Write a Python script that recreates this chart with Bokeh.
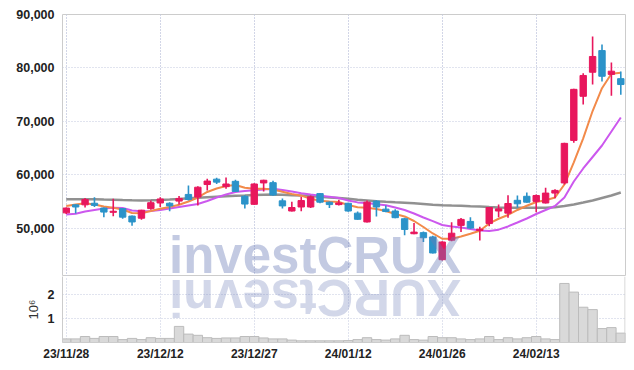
import numpy as np
from bokeh.plotting import figure
from bokeh.layouts import column
from bokeh.models import ColumnDataSource, FixedTicker, Span, Range1d, Grid, NumeralTickFormatter
from bokeh.core.properties import value
from bokeh.embed import file_html
from bokeh.resources import INLINE

dates = ["23/11/28", "23/11/29", "23/11/30", "23/12/01", "23/12/04", "23/12/05", "23/12/06", "23/12/07",
         "23/12/08", "23/12/11", "23/12/12", "23/12/13", "23/12/14", "23/12/15", "23/12/18", "23/12/19",
         "23/12/20", "23/12/21", "23/12/22", "23/12/26", "23/12/27", "23/12/28", "24/01/02", "24/01/03",
         "24/01/04", "24/01/05", "24/01/08", "24/01/09", "24/01/10", "24/01/11", "24/01/12", "24/01/15",
         "24/01/16", "24/01/17", "24/01/18", "24/01/19", "24/01/22", "24/01/23", "24/01/24", "24/01/25",
         "24/01/26", "24/01/29", "24/01/30", "24/01/31", "24/02/01", "24/02/02", "24/02/05", "24/02/06",
         "24/02/07", "24/02/08", "24/02/13", "24/02/14", "24/02/15", "24/02/16", "24/02/19", "24/02/20",
         "24/02/21", "24/02/22", "24/02/23", "24/02/26"]

opens = [52900, 54400, 54400, 54700, 53800, 53000, 53700, 52300, 51900, 53700,
         54750, 54700, 55100, 56350, 55850, 58200, 59200, 57800, 58800, 56000,
         54500, 58500, 58550, 55150, 53250, 54000, 54000, 56500, 54900, 54450,
         54700, 52850, 51200, 55100, 53600, 53250, 51800, 49000, 49200, 48400,
         44150, 47800, 50560, 51300, 49600, 50900, 53250, 52850, 55250, 56000,
         55050, 54750, 56600, 58500, 66450, 74700, 79200, 83250, 78800, 78000]
highs = [53900, 54500, 55700, 55800, 53900, 55550, 53800, 52400, 53500, 55200,
         55800, 54900, 56050, 58000, 57900, 59300, 59450, 59500, 59100, 56200,
         58450, 59100, 58900, 55600, 55000, 55850, 56150, 56600, 55050, 55350,
         54800, 53150, 55200, 55250, 54300, 53600, 52000, 51000, 49400, 48600,
         47600, 51150, 51950, 52100, 50300, 54000, 54450, 56200, 56150, 56700,
         56350, 57600, 57300, 66000, 76100, 79000, 85900, 84400, 81000, 79350]
lows = [52700, 52800, 53900, 54000, 52100, 52250, 51800, 50500, 51600, 53500,
        54000, 53200, 54450, 55200, 54300, 57100, 58300, 57400, 56800, 53700,
        54400, 56900, 56100, 53700, 53150, 53200, 53800, 54700, 53800, 54300,
        53100, 51600, 51100, 52200, 53000, 51900, 48700, 48900, 47450, 45300,
        44000, 47600, 49300, 49950, 47750, 50400, 52100, 52000, 53900, 54800,
        53000, 54650, 55650, 58200, 66000, 73150, 76900, 77450, 74800, 75000]
closes = [53800, 54000, 55400, 54300, 53050, 53200, 52100, 51200, 53400, 54800,
          55500, 54200, 55600, 55400, 57700, 58850, 58650, 58300, 56900, 54550,
          58300, 59000, 56250, 54200, 53900, 55200, 55900, 54900, 54450, 54750,
          53250, 51700, 54900, 54000, 53150, 52000, 49800, 49300, 48250, 45400,
          47450, 49100, 51680, 50050, 49850, 53900, 53650, 54650, 54600, 54900,
          56150, 56600, 57100, 65900, 76000, 78600, 82150, 78450, 79400, 76900]
volumes = [150000, 150000, 250000, 170000, 250000, 250000, 120000, 170000, 120000, 200000,
           170000, 170000, 670000, 350000, 300000, 200000, 170000, 190000, 190000, 250000,
           250000, 190000, 150000, 150000, 100000, 70000, 70000, 70000, 70000, 70000,
           80000, 120000, 200000, 120000, 100000, 150000, 300000, 120000, 100000, 250000,
           200000, 200000, 150000, 120000, 150000, 250000, 120000, 200000, 150000, 200000,
           250000, 150000, 120000, 2460000, 2100000, 1470000, 1370000, 580000, 620000, 390000]
ma5 = [54190, 54470, 54710, 54470, 54100, 53850, 53540, 52880, 52840, 53250,
       53670, 54000, 54410, 55030, 55780, 56810, 57460, 57930, 58120, 57590,
       57410, 57410, 57280, 56840, 56430, 56120, 55540, 55160, 55030, 54920,
       54380, 53950, 53850, 53630, 53250, 52690, 52230, 51380, 50260, 49050,
       48060, 48060, 48490, 48990, 49550, 50920, 51800, 52510, 53440, 54230,
       54940, 55270, 55780, 58200, 62350, 66840, 71950, 76220, 78920, 79100]
ma10 = [52600, 52730, 53160, 53440, 53720, 53850, 53820, 53350, 53200, 53250,
        53440, 53720, 54000, 54280, 54560, 55120, 55780, 56340, 56810, 56990,
        57130, 57280, 57410, 57180, 56900, 56580, 56340, 56120, 55930, 55690,
        55220, 54860, 54730, 54530, 54320, 53910, 53440, 52790, 52040, 51350,
        50640, 50360, 50170, 49890, 49610, 49510, 49760, 50360, 51100, 51850,
        52690, 53440, 54190, 55780, 58770, 61200, 63350, 65500, 68120, 70740]
ma_long = [55460, 55460, 55460, 55440, 55400, 55370, 55310, 55260, 55220, 55260,
           55310, 55400, 55500, 55630, 55740, 55840, 55930, 56020, 56100, 56150,
           56230, 56280, 56320, 56280, 56210, 56150, 56040, 55910, 55780, 55670,
           55520, 55350, 55220, 55090, 54980, 54880, 54790, 54690, 54560, 54430,
           54320, 54260, 54210, 54150, 54100, 54000, 53910, 53850, 53850, 53850,
           53850, 53870, 53950, 54190, 54470, 54840, 55220, 55690, 56150, 56710]

price_ticks = [50000, 60000, 70000, 80000, 90000]
vol_ticks = [1000000, 2000000]
vol_tick_labels = ["1", "2"]
date_ticks = [0, 10, 20, 30, 40, 50]

RED = "#E8175D"
BLUE = "#2B93C9"
GRID = "#c3c9de"
FONT = "Liberation Sans"
WM_COLOR = "#6a7ab6"

idx = list(range(len(dates)))
src = ColumnDataSource(dict(
    x=idx, o=opens, h=highs, l=lows, c=closes, vol=volumes,
    top=[max(o, c) for o, c in zip(opens, closes)],
    bottom=[min(o, c) for o, c in zip(opens, closes)],
    color=[RED if c >= o else BLUE for o, c in zip(opens, closes)],
    ma5=ma5, ma10=ma10, ma_long=ma_long,
))

xr = Range1d(-0.4, 59.5)

p = figure(width=632, height=276, x_range=xr, y_range=Range1d(41000, 90000),
           output_backend="svg", toolbar_location=None, x_axis_location=None,
           min_border_left=62, min_border_right=7, min_border_top=14, min_border_bottom=0)
p.outline_line_color = "#cccccc"
p.yaxis.ticker = FixedTicker(ticks=price_ticks)
p.yaxis.formatter = NumeralTickFormatter(format="0,0")
p.ygrid.ticker = FixedTicker(ticks=price_ticks)
p.add_layout(Grid(dimension=0, ticker=FixedTicker(ticks=date_ticks)))
for g in p.grid:
    g.grid_line_color = GRID
    g.grid_line_dash = "1 2"
    g.grid_line_width = 1

p.line("x", "ma_long", source=src, line_color="#858585", line_width=2.5, line_alpha=0.9)
p.line("x", "ma10", source=src, line_color="#CC58EE", line_width=2)
p.line("x", "ma5", source=src, line_color="#F28A4A", line_width=2)
p.segment(x0="x", y0="h", x1="x", y1="l", source=src, line_color="color", line_width=1.6)
p.vbar(x="x", width=0.68, top="top", bottom="bottom", source=src,
       fill_color="color", line_color="color", line_width=1)

p.text(x=[26.46], y=[44860], text=["investCRUX"], text_align="center", text_baseline="alphabetic",
       text_font=value(FONT), text_font_style="bold", text_font_size="51px",
       text_color=WM_COLOR, text_alpha=0.4)

q = figure(width=632, height=92, x_range=xr, y_range=Range1d(0, 2750000),
           output_backend="svg", toolbar_location=None,
           min_border_left=62, min_border_right=7, min_border_top=0, min_border_bottom=26)
q.outline_line_color = None
q.vbar(x="x", width=1.0, top="vol", bottom=0, source=src,
       fill_color="#d9d9d9", line_color="#bcbcbc", line_width=1)
q.text(x=[26.46], y=[1892000], text=["XURCtsevni"], angle=np.pi, text_align="center",
       text_baseline="alphabetic", text_font=value(FONT), text_font_style="bold",
       text_font_size="51px", text_color=WM_COLOR, text_alpha=0.3)
q.add_layout(Span(location=59.45, dimension="height", line_color="#cccccc", line_width=1))
q.yaxis.ticker = FixedTicker(ticks=vol_ticks)
q.yaxis.major_label_overrides = {t: s for t, s in zip(vol_ticks, vol_tick_labels)}
q.yaxis.axis_label = "10\u2076"
q.yaxis.axis_label_text_font = FONT
q.yaxis.axis_label_text_font_style = "normal"
q.yaxis.axis_label_text_font_size = "13px"
q.yaxis.axis_label_text_color = "#333333"
q.yaxis.axis_label_standoff = 4
q.xaxis.ticker = FixedTicker(ticks=date_ticks)
q.xaxis.major_label_overrides = {i: dates[i] for i in date_ticks}
q.xgrid.ticker = FixedTicker(ticks=date_ticks)
q.ygrid.ticker = FixedTicker(ticks=vol_ticks)
for g in q.grid:
    g.grid_line_color = GRID
    g.grid_line_dash = "1 2"
    g.grid_line_width = 1

for ax in (p.yaxis[0], q.yaxis[0], q.xaxis[0]):
    ax.major_tick_line_color = None
    ax.minor_tick_line_color = None
    ax.major_tick_out = 0
    ax.major_tick_in = 0
    ax.minor_tick_out = 0
    ax.minor_tick_in = 0
    ax.major_label_text_font = FONT
    ax.major_label_text_font_style = "bold"
    ax.major_label_text_color = "#222222"
    ax.major_label_standoff = 8
p.yaxis.axis_line_color = None
p.yaxis.major_label_text_font_size = "12.5px"
q.yaxis.axis_line_color = "#cccccc"
q.yaxis.major_label_text_font_size = "12.5px"
q.xaxis.axis_line_color = "#cccccc"
q.xaxis.major_label_text_font_size = "12px"
q.xaxis.major_label_standoff = 4

layout = column(p, q, spacing=0)
open("out.html", "w").write(file_html(layout, INLINE))
